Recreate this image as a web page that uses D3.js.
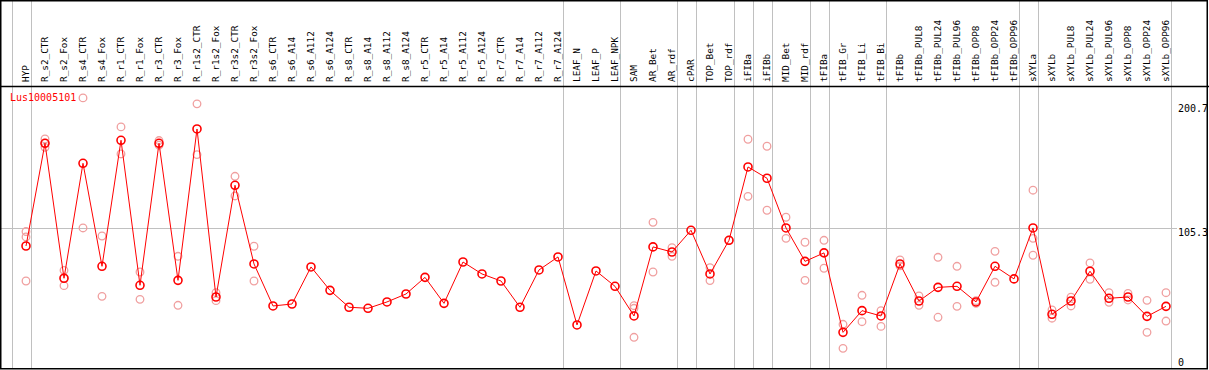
<!DOCTYPE html>
<html>
<head>
<meta charset="utf-8">
<script src="https://cdn.jsdelivr.net/npm/d3@7"></script>
<style>
  html, body { margin: 0; padding: 0; background: #fff; }
  svg { display: block; }
</style>
</head>
<body>
<svg id="chart" width="1209" height="370"></svg>
<script>
// sample (column) labels
const samples = [
  "HYP", "R_s2_CTR", "R_s2_Fox", "R_s4_CTR", "R_s4_Fox", "R_r1_CTR", "R_r1_Fox",
  "R_r3_CTR", "R_r3_Fox", "R_r1s2_CTR", "R_r1s2_Fox", "R_r3s2_CTR", "R_r3s2_Fox",
  "R_s6_CTR", "R_s6_A14", "R_s6_A112", "R_s6_A124", "R_s8_CTR", "R_s8_A14",
  "R_s8_A112", "R_s8_A124", "R_r5_CTR", "R_r5_A14", "R_r5_A112", "R_r5_A124",
  "R_r7_CTR", "R_r7_A14", "R_r7_A112", "R_r7_A124", "LEAF_N", "LEAF_P", "LEAF_NPK",
  "SAM", "AR_Bet", "AR_rdf", "cPAR", "TOP_Bet", "TOP_rdf", "iFIBa", "iFIBb",
  "MID_Bet", "MID_rdf", "tFIBa", "tFIB_Gr", "tFIB_Li", "tFIB_Bi", "tFIBb",
  "tFIBb_PUL8", "tFIBb_PUL24", "tFIBb_PUL96", "tFIBb_OPP8", "tFIBb_OPP24", "tFIBb_OPP96",
  "sXYLa", "sXYLb", "sXYLb_PUL8", "sXYLb_PUL24", "sXYLb_PUL96", "sXYLb_OPP8",
  "sXYLb_OPP24", "sXYLb_OPP96"
];

// mean expression per sample
const meanValues = [
  91.5, 170.5, 66.7, 155.1, 75.9, 172.8, 61.3, 170.5, 65.1, 181.5, 52.3, 138.2, 77.7,
  45.4, 46.9, 75.4, 57.4, 44.4, 43.6, 48.5, 54.6, 67.4, 47.4, 79.2, 70.0,
  64.6, 44.4, 73.1, 83.1, 30.8, 72.3, 60.5,
  37.7, 90.8, 86.9, 103.6, 70.0, 95.9, 152.3, 143.6,
  105.4, 79.7, 86.2, 25.1, 41.8, 37.7, 77.7,
  49.2, 59.7, 60.5, 48.5, 75.9, 66.2,
  105.4, 39.0, 49.2, 72.1, 51.3, 52.3, 37.4, 45.1
];

// individual replicates (empty where none show)
const replicateValues = [
  [102.6, 98.5, 64.6], [173.8, 170.5, 167.4], [72.8, 66.7, 61.0], [205.4, 105.4],
  [99.2, 52.8], [183.1, 162.3], [71.5, 50.5], [172.6, 169.0], [83.6, 45.9],
  [200.8, 161.8], [55.6, 49.5], [145.1, 130.0], [91.3, 64.6],
  [], [], [], [], [], [], [], [], [], [], [], [],
  [], [], [], [], [], [], [],
  [45.6, 43.6, 21.3], [109.7, 71.5], [90.2, 83.6], [], [74.9, 64.9], [95.9],
  [173.6, 129.7], [168.2, 119.0],
  [113.6, 97.4], [94.4, 65.1], [95.9, 74.4], [31.3, 12.8], [53.6, 33.3], [41.8, 29.7],
  [80.8, 76.2],
  [53.1, 45.9], [82.8, 36.7], [75.9, 45.1], [47.4, 49.5], [87.4, 63.6], [],
  [134.4, 97.4, 84.4], [42.3, 36.0], [52.1, 45.4], [78.5, 65.9], [55.6, 48.2],
  [55.1, 50.0], [49.7, 25.1], [55.6, 33.8]
];

// group separators drawn after these sample indices
const groupEnds = [-1, 0, 28, 31, 34, 35, 37, 38, 39, 41, 42, 45, 52, 53, 60];

const axisLabels = [0, 105.3, 200.7];
const gridValues = [105.3];
const geneName = "Lus10005101";

const W = 1209, H = 370;
const headerBottom = 86, plotBottom = 368;
const step = 19;

const svg = d3.select("#chart");

const x = d3.scaleLinear()
    .domain([0, samples.length - 1])
    .range([26, 26 + step * (samples.length - 1)]);

const y = d3.scaleLinear()
    .domain([0, 200.7])
    .range([365, 104]);

const snap = v => Math.round(v) + 0.5;

// horizontal grid line
svg.selectAll(".hgrid")
    .data(gridValues)
    .join("line")
    .attr("class", "hgrid")
    .attr("x1", 1).attr("x2", 1177)
    .attr("y1", d => snap(y(d))).attr("y2", d => snap(y(d)))
    .attr("stroke", "#c0c0c0");

// vertical group separators
svg.selectAll(".vgrid")
    .data(groupEnds)
    .join("line")
    .attr("class", "vgrid")
    .attr("x1", d => snap(x(d) + step / 4))
    .attr("x2", d => snap(x(d) + step / 4))
    .attr("y1", 0).attr("y2", plotBottom)
    .attr("stroke", "#c0c0c0");

// rotated column labels
svg.append("g")
    .selectAll("text")
    .data(samples)
    .join("text")
    .attr("transform", (d, i) => `translate(${x(i)},82) rotate(-90)`)
    .attr("dy", "0.35em")
    .attr("font-family", "DejaVu Sans Mono, monospace")
    .attr("font-size", "9.4px")
    .attr("fill", "#000")
    .text(d => d);

// header divider
svg.append("line")
    .attr("x1", 0).attr("x2", W)
    .attr("y1", headerBottom + 0.5).attr("y2", headerBottom + 0.5)
    .attr("stroke", "#000").attr("stroke-width", 1.5);

// right axis labels
svg.selectAll(".ylab")
    .data(axisLabels)
    .join("text")
    .attr("class", "ylab")
    .attr("x", 1178)
    .attr("y", d => Math.min(y(d) + 4, 362))
    .attr("dy", "0.35em")
    .attr("font-family", "DejaVu Sans Mono, monospace")
    .attr("font-size", "10px")
    .attr("fill", "#000")
    .text(d => d);

// legend
svg.append("text")
    .attr("x", 10).attr("y", 101)
    .attr("font-family", "DejaVu Sans Mono, monospace")
    .attr("font-size", "10px")
    .attr("fill", "#f00")
    .text(geneName);

// replicate points
const reps = [];
replicateValues.forEach((vals, i) => vals.forEach(v => reps.push({ i, v })));

svg.append("g")
    .selectAll("circle")
    .data(reps)
    .join("circle")
    .attr("cx", d => x(d.i))
    .attr("cy", d => y(d.v))
    .attr("r", 3.8)
    .attr("fill", "none")
    .attr("stroke", "#f0a0a0")
    .attr("stroke-width", 1.3);

// mean line
const line = d3.line()
    .x((d, i) => x(i))
    .y(d => y(d));

svg.append("path")
    .datum(meanValues)
    .attr("d", line)
    .attr("fill", "none")
    .attr("stroke", "#f00")
    .attr("stroke-width", 1);

// mean points
svg.append("g")
    .selectAll("circle")
    .data(meanValues)
    .join("circle")
    .attr("cx", (d, i) => x(i))
    .attr("cy", d => y(d))
    .attr("r", 4)
    .attr("fill", "none")
    .attr("stroke", "#f00")
    .attr("stroke-width", 1.6);

// outer frame
svg.append("rect")
    .attr("x", 0.75).attr("y", 0.75)
    .attr("width", W - 2.5).attr("height", plotBottom)
    .attr("fill", "none")
    .attr("stroke", "#000")
    .attr("stroke-width", 1.5);
</script>
</body>
</html>
